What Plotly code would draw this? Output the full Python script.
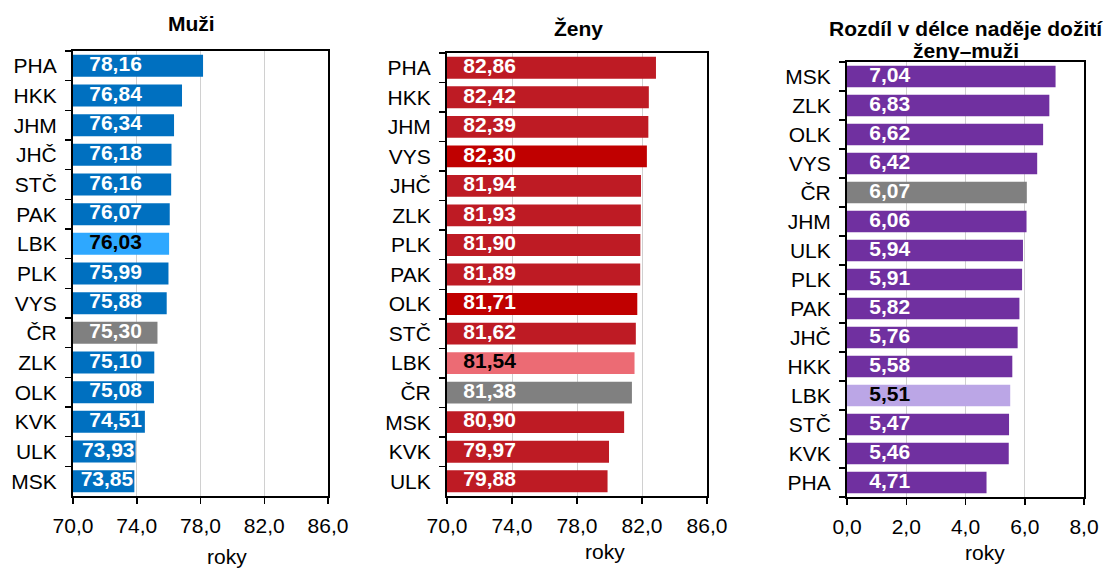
import plotly.graph_objects as go

# ---------------- data ----------------
muzi_cat = ["PHA", "HKK", "JHM", "JHČ", "STČ", "PAK", "LBK", "PLK", "VYS", "ČR", "ZLK", "OLK", "KVK", "ULK", "MSK"]
muzi_val = [78.16, 76.84, 76.34, 76.18, 76.16, 76.07, 76.03, 75.99, 75.88, 75.30, 75.10, 75.08, 74.51, 73.93, 73.85]

zeny_cat = ["PHA", "HKK", "JHM", "VYS", "JHČ", "ZLK", "PLK", "PAK", "OLK", "STČ", "LBK", "ČR", "MSK", "KVK", "ULK"]
zeny_val = [82.86, 82.42, 82.39, 82.30, 81.94, 81.93, 81.90, 81.89, 81.71, 81.62, 81.54, 81.38, 80.90, 79.97, 79.88]

rozdil_cat = ["MSK", "ZLK", "OLK", "VYS", "ČR", "JHM", "ULK", "PLK", "PAK", "JHČ", "HKK", "LBK", "STČ", "KVK", "PHA"]
rozdil_val = [7.04, 6.83, 6.62, 6.42, 6.07, 6.06, 5.94, 5.91, 5.82, 5.76, 5.58, 5.51, 5.47, 5.46, 4.71]

title_lines = [["Muži"], ["Ženy"], ["Rozdíl v délce naděje dožití", "ženy–muži"]]
axis_title = "roky"
ticks_age = [70, 74, 78, 82, 86]
ticks_diff = [0, 2, 4, 6, 8]

# ---------------- styles ----------------
W, H = 1108, 568
FONT = "Liberation Sans, Arial, sans-serif"
FS = 21
GREY = "#808080"

def colors_for(cats, base, special):
    out = []
    for c in cats:
        if c == "ČR":
            out.append(GREY)
        elif c in special:
            out.append(special[c])
        else:
            out.append(base)
    return out

muzi_col = colors_for(muzi_cat, "#0070C0", {"LBK": "#2EA8FF"})
zeny_col = colors_for(zeny_cat, "#BE1B24", {"VYS": "#C00000", "OLK": "#C00000", "LBK": "#EC6B74"})
rozdil_col = colors_for(rozdil_cat, "#7030A0", {"LBK": "#BBA6E6"})

def fmt(v, d=2):
    return f"{v:.{d}f}".replace(".", ",")

# panel pixel boxes: (x0, x1, ytop, ybottom)
boxes = [(73, 328, 51, 496), (447, 707, 53, 496), (847, 1084, 62, 497)]

fig = go.Figure()

panels = [
    (muzi_cat, muzi_val, muzi_col, [70, 86], ticks_age, 72.67, 1.72),
    (zeny_cat, zeny_val, zeny_col, [70, 86], ticks_age, 72.62, 1.72),
    (rozdil_cat, rozdil_val, rozdil_col, [0, 8], ticks_diff, 1.44, 0.9),
]

for i, (cats, vals, cols, rng, tks, lab_x, lab_off) in enumerate(panels):
    ax = "" if i == 0 else str(i + 1)
    xa, ya = "x" + ax, "y" + ax
    fig.add_trace(go.Bar(
        y=cats, x=vals, orientation="h", marker=dict(color=cols, line=dict(width=0)),
        width=0.74, xaxis=xa, yaxis=ya, showlegend=False, hoverinfo="skip",
    ))
    tx = [min(lab_x, v - lab_off) for v in vals]
    tcol = ["black" if c == "LBK" else "white" for c in cats]
    fig.add_trace(go.Scatter(
        y=cats, x=tx, mode="text", text=[fmt(v) for v in vals],
        textposition="middle center",
        textfont=dict(family=FONT, size=FS, color=tcol, weight="bold"),
        xaxis=xa, yaxis=ya, showlegend=False, hoverinfo="skip", cliponaxis=False,
    ))
    x0, x1, yt, yb = boxes[i]
    fig.layout["xaxis" + ax] = dict(
        domain=[x0 / W, x1 / W], anchor=ya, range=rng, tickvals=tks,
        ticktext=[fmt(t, 1) for t in tks], ticks="outside", ticklen=6, tickwidth=1.5,
        tickcolor="black", showline=True, linecolor="black", linewidth=2, mirror=True,
        showgrid=True, gridcolor="#D0D0D0", gridwidth=1, zeroline=False,
        tickfont=dict(family=FONT, size=FS, color="black"), ticklabelstandoff=4,
        fixedrange=True, automargin=False,
    )
    fig.layout["yaxis" + ax] = dict(
        domain=[1 - yb / H, 1 - yt / H], anchor=xa, type="category",
        categoryorder="array", categoryarray=cats[::-1], tickson="boundaries",
        range=[-0.5, len(cats) - 0.5],
        ticks="outside", ticklen=6, tickwidth=1.5, tickcolor="black",
        showline=True, linecolor="black", linewidth=2, mirror=True, showgrid=False,
        tickfont=dict(family=FONT, size=FS, color="black"), ticklabelstandoff=10,
        fixedrange=True, automargin=False,
    )

# titles (one annotation per line)
title_pos = [[(191, 24)], [(578, 28)], [(966, 28), (966, 50)]]
for lines, poss in zip(title_lines, title_pos):
    for t, (tx_, ty_) in zip(lines, poss):
        fig.add_annotation(x=tx_ / W, y=1 - ty_ / H, xref="paper", yref="paper", text=f"<b>{t}</b>",
                           showarrow=False, font=dict(family=FONT, size=FS, color="black"),
                           xanchor="center", yanchor="middle")

# axis titles
roky_pos = [(227, 556), (605, 551), (985, 552)]
for (rx, ry) in roky_pos:
    fig.add_annotation(x=rx / W, y=1 - ry / H, xref="paper", yref="paper", text=axis_title,
                       showarrow=False, font=dict(family=FONT, size=FS, color="black"),
                       xanchor="center", yanchor="middle")

fig.update_layout(
    width=W, height=H, margin=dict(l=0, r=0, t=0, b=0),
    paper_bgcolor="white", plot_bgcolor="white", bargap=0.26,
    separators=", ", font=dict(family=FONT, size=FS, color="black"),
)

fig.write_html(
    "out.html",
    config={"displayModeBar": False, "staticPlot": True},
    post_script="document.body.style.margin='0';document.body.style.overflow='hidden';",
)
